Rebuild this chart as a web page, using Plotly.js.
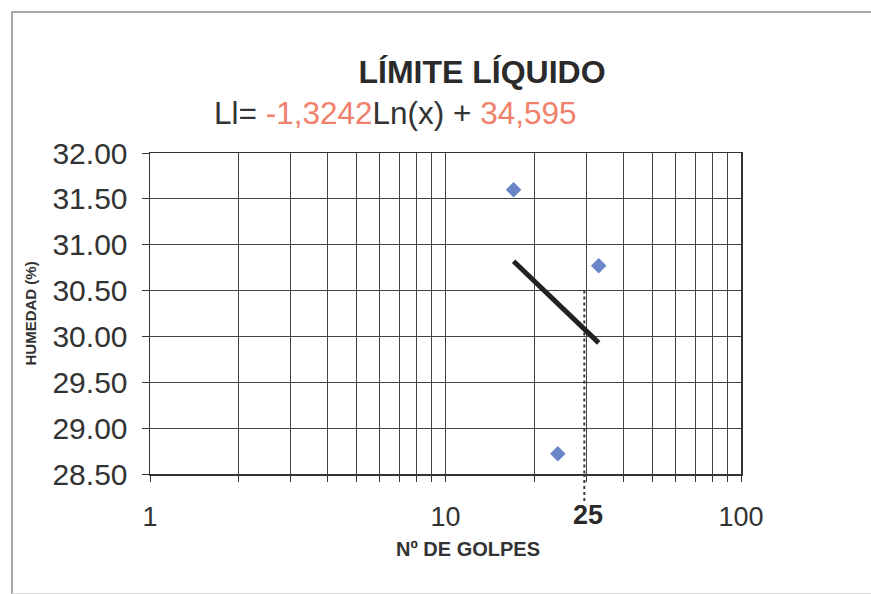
<!DOCTYPE html>
<html>
<head>
<meta charset="utf-8">
<script src="https://cdn.plot.ly/plotly-3.0.1.min.js"></script>
<style>
  html, body { margin: 0; padding: 0; background: #ffffff; }
  #frame { position: absolute; left: 11px; top: 11px; width: 880px; height: 580px;
           border-left: 2px solid #a8a8a8; border-top: 2px solid #a8a8a8; border-bottom: 1px solid #d8d8d8; }
  #chart { position: absolute; left: 0; top: 0; width: 871px; height: 594px; }
</style>
</head>
<body>
<div id="frame"></div>
<div id="chart"></div>
<script>
// Data
const golpes = [17, 24, 33];              // Nº de golpes
const humedad = [31.60, 28.72, 30.77];    // humedad (%)
const trendX = [17, 33];                  // logarithmic trend line ends
const trendY = [30.82, 29.93];
const refX = 29.5;                        // dotted reference line (labelled 25)
const refY = [30.5, 28.5];
const refLabel = '25';
const gridVals = [1,2,3,4,5,6,7,8,9,10,20,30,40,50,60,70,80,90,100];
const tickLabels = ['1','','','','','','','','','10','','','','','','','','','100'];
const yTicks = [28.5, 29.0, 29.5, 30.0, 30.5, 31.0, 31.5, 32.0];

const font = 'Arial, "Liberation Sans", sans-serif';
const dark = '#333333';
const salmon = '#f0806a';

const traces = [
  {
    x: [refX, refX], y: refY, mode: 'lines', type: 'scatter',
    line: {color: '#3a3a3a', width: 2, dash: 'dot'}, hoverinfo: 'skip', showlegend: false
  },
  {
    x: trendX, y: trendY, mode: 'lines', type: 'scatter',
    line: {color: '#222222', width: 5}, showlegend: false
  },
  {
    x: golpes, y: humedad, mode: 'markers', type: 'scatter',
    marker: {symbol: 'diamond', size: 12, color: '#6b85c9'}, showlegend: false
  }
];

const layout = {
  width: 871, height: 594,
  margin: {l: 150, r: 130, t: 153, b: 120},
  paper_bgcolor: 'rgba(0,0,0,0)', plot_bgcolor: '#ffffff',
  font: {family: font, color: dark},
  title: {
    text: '<b>LÍMITE LÍQUIDO</b>',
    font: {family: font, size: 32, color: '#2a2a2a'},
    x: 482/871, xanchor: 'center', xref: 'container',
    y: 1 - 72/594, yanchor: 'middle', yref: 'container'
  },
  xaxis: {
    type: 'log', range: [0, 2],
    tickmode: 'array', tickvals: gridVals, ticktext: tickLabels,
    ticks: 'outside', ticklen: 6, tickcolor: dark,
    tickfont: {family: font, size: 27, color: dark},
    showgrid: true, gridcolor: '#444444', gridwidth: 1,
    showline: true, linecolor: dark, linewidth: 1.5, mirror: true,
    zeroline: false, ticklabelstandoff: 12
  },
  yaxis: {
    range: [28.5, 32], tickmode: 'array', tickvals: yTicks,
    tickformat: '.2f',
    ticks: 'outside', ticklen: 7, tickcolor: dark,
    tickfont: {family: font, size: 30, color: dark},
    showgrid: true, gridcolor: '#444444', gridwidth: 1,
    showline: true, linecolor: dark, linewidth: 1.5, mirror: true,
    zeroline: false, ticklabelstandoff: 8
  },
  shapes: [
    {type: 'line', xref: 'x', yref: 'paper', x0: refX, x1: refX,
     y0: 0, y1: -0.09, line: {color: '#3a3a3a', width: 2, dash: 'dot'}}
  ],
  annotations: [
    {
      text: 'Ll= <span style="color:' + salmon + '">-1,3242</span>Ln(x) + <span style="color:' + salmon + '">34,595</span>',
      xref: 'paper', yref: 'paper', x: (395-150)/591, y: (474-113)/321,
      xanchor: 'center', yanchor: 'middle', showarrow: false,
      font: {family: font, size: 31.5, color: dark}
    },
    {
      text: '<b>' + refLabel + '</b>', xref: 'x', yref: 'paper',
      x: Math.log10(refX), y: 0, yshift: -41, xshift: 4,
      xanchor: 'center', yanchor: 'middle', showarrow: false,
      font: {family: font, size: 27, color: '#2a2a2a'}
    },
    {
      text: '<b>Nº DE GOLPES</b>', xref: 'paper', yref: 'paper',
      x: (468-150)/591, y: 0, yshift: -75, xanchor: 'center', yanchor: 'middle',
      showarrow: false, font: {family: font, size: 20, color: dark}
    },
    {
      text: '<b>HUMEDAD (%)</b>', xref: 'paper', yref: 'paper',
      x: 0, xshift: -120, y: 0.5, textangle: -90, xanchor: 'center', yanchor: 'middle',
      showarrow: false, font: {family: font, size: 15, color: dark}
    }
  ]
};

Plotly.newPlot('chart', traces, layout, {displayModeBar: false, staticPlot: true});
</script>
</body>
</html>
